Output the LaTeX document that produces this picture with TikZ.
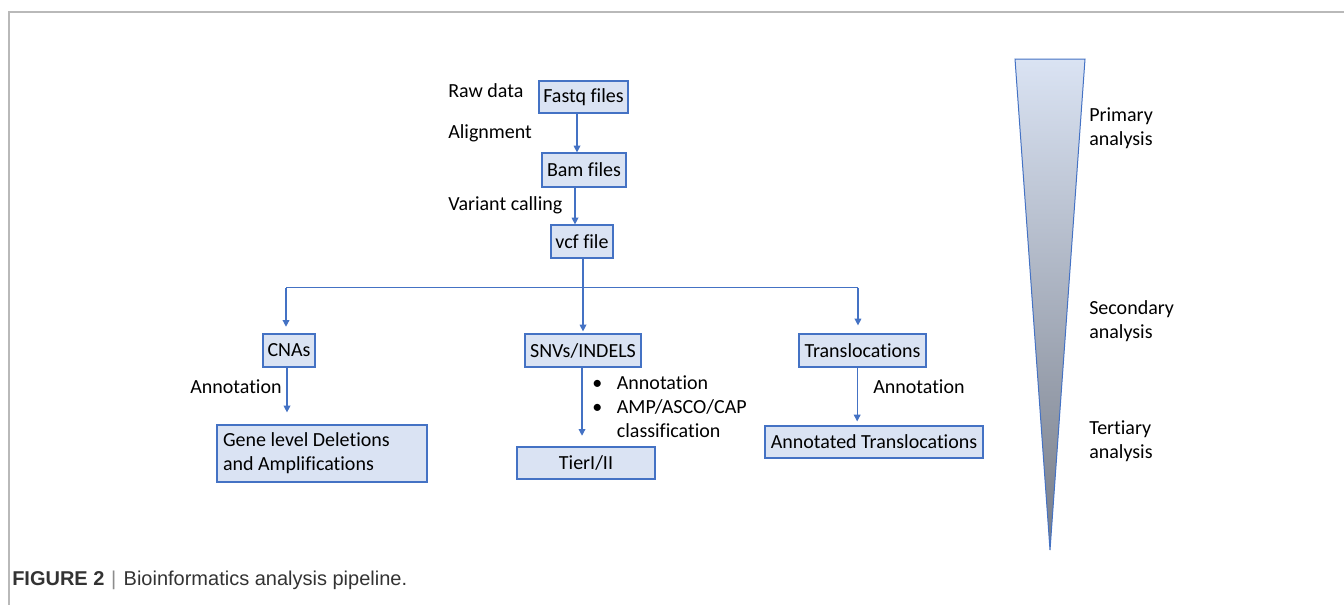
\documentclass[tikz,border=0pt]{standalone}
\usepackage{fontspec}
\setmainfont[Ligatures={NoCommon}]{Carlito}
\newfontfamily\capfont{Liberation Sans}
\usetikzlibrary{arrows.meta}
\definecolor{boxfill}{RGB}{218,227,243}
\definecolor{boxline}{RGB}{68,114,196}
\definecolor{wedgebot}{RGB}{118,124,136}
\definecolor{framegray}{RGB}{185,185,185}
\begin{document}
\begin{tikzpicture}[x=0.75pt, y=-0.75pt, font=\fontsize{15}{18}\selectfont,
		box/.style = {draw=boxline, fill=boxfill, line width=0.9pt, inner sep=0pt},
		lbl/.style = {inner sep=0pt, anchor=west, align=left},
		link/.style = {draw=boxline, line width=0.9pt},
		arr/.style = {link, -{Triangle[length=5pt, width=5pt]}}]
		\useasboundingbox (0,0) rectangle (1344,614);
		\draw[framegray, line width=0.9pt] (1344,12) -- (9,12) -- (9,605);
		\node[box, minimum width=66.75pt, minimum height=24pt] (fq) at (583.5,97) {Fastq files};
		\node[box, minimum width=63pt, minimum height=25.5pt] (bam) at (584,170) {Bam files};
		\node[box, minimum width=46.5pt, minimum height=24.75pt] (vcf) at (582,241.5) {vcf file};
		\node[box, minimum width=39pt, minimum height=24.75pt] (cna) at (289,350.5) {CNAs};
		\node[box, minimum width=87pt, minimum height=24.75pt] (snv) at (583,350.5) {SNVs/INDELS};
		\node[box, minimum width=95.25pt, minimum height=24.75pt] (trl) at (862.5,350.5) {Translocations};
		\node[box, text width=148.5pt, inner xsep=4.5pt, minimum height=42.75pt, align=flush left] (gene) at (322,453.5) {Gene level Deletions\\and Amplifications};
		\node[box, minimum width=103.5pt, minimum height=24pt] (tier) at (586,463) {TierI/II};
		\node[box, minimum width=163.5pt, minimum height=24pt] (ann) at (874,442) {Annotated Translocations};
		\node[lbl] (raw) at (448,91) {Raw data};
		\node[lbl] (align) at (448,133) {Alignment};
		\node[lbl] (call) at (448,205) {Variant calling};
		\node[lbl] (anncna) at (190,387) {Annotation};
		\node[lbl] (annsnv) at (592,409) {\begin{tabular}{@{}l@{\hspace{11pt}}l@{}}\textbullet & Annotation\\\textbullet & AMP/ASCO/CAP\\ & classification\end{tabular}};
		\node[lbl] (anntrl) at (873,387) {Annotation};
		\coordinate (wl) at (1015,59);
		\coordinate (wr) at (1085,59);
		\coordinate (wb) at (1050,550);
		\shadedraw[top color=boxfill, bottom color=wedgebot, draw=boxline, line width=0.75pt] (wl) -- (wr) -- (wb) -- cycle;
		\node[lbl] (prim) at (1089,128) {Primary\\analysis};
		\node[lbl] (sec) at (1089,321) {Secondary\\analysis};
		\node[lbl] (ter) at (1089,441) {Tertiary\\analysis};
		\draw[arr] ([xshift=-5.25pt]fq.south -| bam.north) -- ([xshift=-5.25pt]bam.north);
		\draw[arr] ([xshift=-6.75pt]bam.south) -- ([xshift=-6.75pt]bam.south |- vcf.north);
		\draw[link] ([xshift=0.75pt]vcf.south) -- ++(0,29) coordinate (split);
		\draw[link] ([xshift=-2.25pt]cna.north |- split) -- ([xshift=-3.4pt]trl.north |- split);
		\draw[arr, shorten >=5pt] ([xshift=-2.25pt]cna.north |- split) -- ([xshift=-2.25pt]cna.north);
		\draw[arr, shorten >=1.5pt] (snv.north |- split) -- (snv.north);
		\draw[arr, shorten >=6pt] ([xshift=-3.4pt]trl.north |- split) -- ([xshift=-3.4pt]trl.north);
		\draw[arr, shorten >=9pt] ([xshift=-1.5pt]cna.south) -- ([xshift=-1.5pt]cna.south |- gene.north);
		\draw[arr, shorten >=8pt] ([xshift=-0.75pt]snv.south) -- ([xshift=-0.75pt]snv.south |- tier.north);
		\draw[arr, shorten >=3pt] ([xshift=-4pt]trl.south) -- ([xshift=-4pt]trl.south |- ann.north);
		\node[inner sep=0pt, anchor=west, text=black!80] (cap) at (12,580) {\capfont\fontsize{15}{18}\selectfont\textbf{FIGURE 2}\hspace{5pt}{\color{black!45}|}\hspace{5.5pt}Bioinformatics analysis pipeline.};
\end{tikzpicture}
\end{document}
